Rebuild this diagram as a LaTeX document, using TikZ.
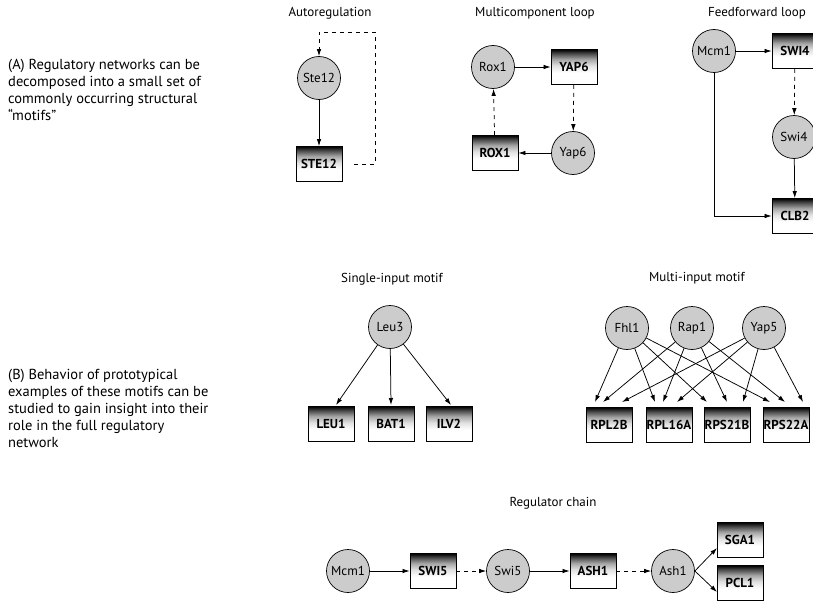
\documentclass[tikz,border=0pt]{standalone}
\usepackage{fontspec}
\setmainfont{PT Sans}
\usetikzlibrary{arrows.meta}
\pgfdeclareverticalshading{genefade}{100bp}{color(0bp)=(white); color(25bp)=(white); color(42bp)=(white); color(52bp)=(black!12); color(61bp)=(black!35); color(69bp)=(black!70); color(75bp)=(black); color(100bp)=(black)}
\begin{document}
\begin{tikzpicture}[x=1pt,y=-1pt,
  tf/.style={circle, draw, line width=0.7pt, fill=black!20, minimum size=43pt, inner sep=0pt, font=\fontsize{13}{15}\selectfont},
  gene/.style={rectangle, draw, line width=0.8pt, shading=genefade, minimum width=46pt, minimum height=35pt, inner sep=0pt, font=\bfseries\fontsize{13}{15}\selectfont},
  ttl/.style={font=\fontsize{13}{15}\selectfont, inner sep=0pt},
  side/.style={font=\fontsize{14.5}{17}\selectfont, align=left, anchor=north west, inner sep=0pt},
  act/.style={line width=0.75pt, -{Latex[length=7pt,width=4.5pt]}},
  dsh/.style={act, dash pattern=on 4pt off 4pt},
]
\useasboundingbox (0,0) rectangle (813,602);

% side texts
\node[side] (tA) at (8,59) {(A) Regulatory networks can be\\decomposed into a small set of\\commonly occurring structural\\``motifs''};
\node[side] (tB) at (8,369) {(B) Behavior of prototypical\\examples of these motifs can be\\studied to gain insight into their\\role in the full regulatory\\network};

% Autoregulation
\node[ttl] (t1) at (330,13) {Autoregulation};
\node[tf] (ste12) at (319,78) {Ste12};
\node[gene] (STE12) at (319,164) {STE12};
\coordinate (a1) at (375,164);
\coordinate (a2) at (375,32);
\coordinate (a3) at (319,32);
\draw[act] (ste12) -- (STE12);
\draw[dsh] ([xshift=12pt]STE12.east) -- (a1) -- (a2) -- (a3) -- (ste12);

% Multicomponent loop
\node[ttl] (t2) at (535,13) {Multicomponent loop};
\node[tf] (rox1) at (493,67) {Rox1};
\node[gene] (YAP6) at (574,67) {YAP6};
\node[tf] (yap6) at (573,153) {Yap6};
\node[gene] (ROX1) at (495,153) {ROX1};
\draw[act] (rox1) -- (YAP6);
\draw[dsh] (YAP6) -- (yap6);
\draw[act] (yap6) -- (ROX1);
\draw[dsh] (ROX1) -- (rox1);

% Feedforward loop
\node[ttl] (t3) at (757,13) {Feedforward loop};
\node[tf] (mcm1a) at (714,51) {Mcm1};
\node[gene] (SWI4) at (795,51) {SWI4};
\node[tf] (swi4) at (794,137) {Swi4};
\node[gene] (CLB2) at (795,216) {CLB2};
\coordinate (f1) at (714,216);
\draw[act] (mcm1a) -- (SWI4);
\draw[dsh] (SWI4) -- (swi4);
\draw[act] (swi4) -- (CLB2);
\draw[act] (mcm1a) -- (f1) -- (CLB2);

% Single-input motif
\node[ttl] (t4) at (392,279) {Single-input motif};
\node[tf] (leu3) at (390,327) {Leu3};
\node[gene] (LEU1) at (331,424) {LEU1};
\node[gene] (BAT1) at (391,424) {BAT1};
\node[gene] (ILV2) at (449,424) {ILV2};
\coordinate (s1) at (336,405);
\coordinate (s2) at (391,405);
\coordinate (s3) at (451,405);
\draw[act] (leu3) -- (s1);
\draw[act] (leu3) -- (s2);
\draw[act] (leu3) -- (s3);

% Multi-input motif
\node[ttl] (t5) at (697,278) {Multi-input motif};
\node[tf] (fhl1) at (627,328) {Fhl1};
\node[tf] (rap1) at (692,328) {Rap1};
\node[tf] (yap5) at (764,328) {Yap5};
\node[gene] (RPL2B) at (609,425) {RPL2B};
\node[gene] (RPL16A) at (669,425) {RPL16A};
\node[gene] (RPS21B) at (727,425) {RPS21B};
\node[gene] (RPS22A) at (786,425) {RPS22A};
\coordinate (m11) at (595,402);
\coordinate (m12) at (603,402);
\coordinate (m13) at (622,402);
\coordinate (m21) at (655,402);
\coordinate (m22) at (663,402);
\coordinate (m23) at (677,402);
\coordinate (m31) at (707,402);
\coordinate (m32) at (727,402);
\coordinate (m33) at (743,402);
\coordinate (m41) at (770,402);
\coordinate (m42) at (785,402);
\coordinate (m43) at (803,402);
\foreach \g in {1,2,3,4}{
  \draw[act] (fhl1) -- (m\g1);
  \draw[act] (rap1) -- (m\g2);
  \draw[act] (yap5) -- (m\g3);
}

% Regulator chain
\node[ttl] (t6) at (553,503) {Regulator chain};
\node[tf] (mcm1b) at (348,571) {Mcm1};
\node[gene] (SWI5) at (433,571) {SWI5};
\node[tf] (swi5) at (508,571) {Swi5};
\node[gene] (ASH1) at (593,571) {ASH1};
\node[tf] (ash1) at (673,571) {Ash1};
\node[gene] (SGA1) at (740,540) {SGA1};
\node[gene] (PCL1) at (740,583) {PCL1};
\coordinate (c1) at (717,548);
\coordinate (c2) at (717,592);
\draw[act] (mcm1b) -- (SWI5);
\draw[dsh] (SWI5) -- (swi5);
\draw[act] (swi5) -- (ASH1);
\draw[dsh] (ASH1) -- (ash1);
\draw[act] (ash1.east) -- (c1);
\draw[act] (ash1.east) -- (c2);
\end{tikzpicture}
\end{document}
